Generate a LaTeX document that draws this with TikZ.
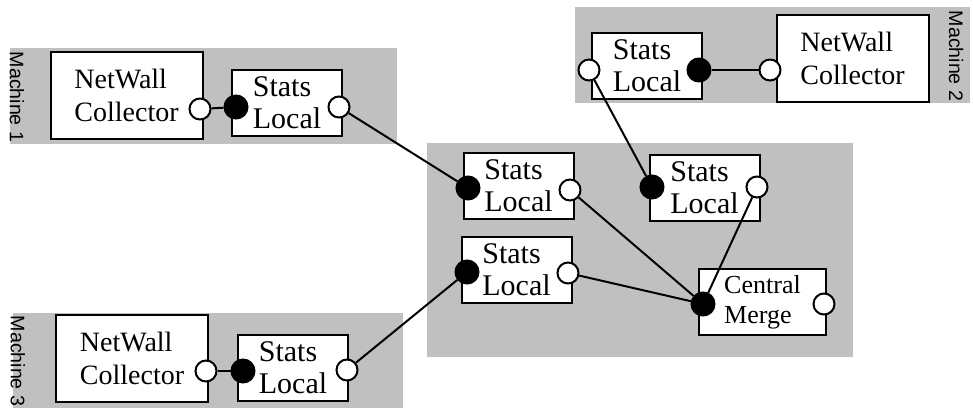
\documentclass[tikz,border=0pt]{standalone}
\usepackage{fontspec}
\setmainfont{Liberation Serif}
\newfontfamily\labelfont{Liberation Sans}
\definecolor{machinegray}{HTML}{C0C0C0}
\begin{document}
\begin{tikzpicture}[x=0.5pt,y=-0.5pt,
  machine/.style={fill=machinegray,draw=none},
  box/.style={draw,line width=1pt,fill=white,inner sep=0pt,align=left},
  nwbox/.style={box,minimum width=76pt,minimum height=43.5pt,font=\fontsize{14}{16.5}\selectfont},
  stbox/.style={box,minimum width=55pt,minimum height=33pt,font=\fontsize{15}{16}\selectfont},
  cmbox/.style={box,minimum width=63.5pt,minimum height=33pt,font=\fontsize{13}{15}\selectfont},
  opencirc/.style={circle,draw,fill=white,line width=1pt,minimum size=10.5pt,inner sep=0pt},
  fullcirc/.style={circle,draw,fill=black,line width=1pt,minimum size=11.5pt,inner sep=0pt},
  wire/.style={line width=1pt},
  mlabel/.style={rotate=-90,font=\labelfont\fontsize{9.8}{11}\selectfont,inner sep=0pt}]
\useasboundingbox (0,0) rectangle (973,408);
% gray machine areas
\fill[machine] (10,48) rectangle (397,144);
\fill[machine] (575,7) rectangle (970,103);
\fill[machine] (427,143) rectangle (853,357);
\fill[machine] (13,313) rectangle (403,408);
% machine labels
\node[mlabel] (m1) at (17,97) {Machine 1};
\node[mlabel] (m2) at (956,56) {Machine 2};
\node[mlabel] (m3) at (18,361) {Machine 3};
% machine 1
\node[nwbox] (nw1) at (126.5,95.5) {NetWall\\Collector};
\node[stbox] (s1) at (287,103) {Stats\\Local};
% machine 2
\node[stbox] (s2) at (647,66) {Stats\\Local};
\node[nwbox] (nw2) at (852.5,58.5) {NetWall\\Collector};
% central
\node[stbox] (sa) at (518.5,186) {Stats\\Local};
\node[stbox] (sb) at (704.5,188) {Stats\\Local};
\node[stbox] (sc) at (516.5,270) {Stats\\Local};
\node[cmbox] (cm) at (762.5,302) {Central\\Merge};
% machine 3
\node[nwbox] (nw3) at (132,358.5) {NetWall\\Collector};
\node[stbox] (s3) at (293,367.5) {Stats\\Local};
% ports
\node[opencirc] (nw1o) at (200,109) {};
\node[fullcirc] (s1i) at (236,107) {};
\node[opencirc] (s1o) at (339,107) {};
\node[opencirc] (s2o) at (589,70) {};
\node[fullcirc] (s2i) at (699,70) {};
\node[opencirc] (nw2o) at (770,70) {};
\node[fullcirc] (sai) at (468,188) {};
\node[opencirc] (sao) at (570,190) {};
\node[fullcirc] (sbi) at (652,187) {};
\node[opencirc] (sbo) at (757,187) {};
\node[fullcirc] (sci) at (467,272) {};
\node[opencirc] (sco) at (568,273) {};
\node[fullcirc] (cmi) at (703,304) {};
\node[opencirc] (cmo) at (824,304) {};
\node[opencirc] (nw3o) at (206,371) {};
\node[fullcirc] (s3i) at (243,371) {};
\node[opencirc] (s3o) at (347,370) {};
% connectors
\draw[wire] (nw1o) -- (s1i);
\draw[wire] (s2i) -- (nw2o);
\draw[wire] (nw3o) -- (s3i);
\draw[wire] (s1o) -- (sai);
\draw[wire] (s2o) -- (sbi);
\draw[wire] (s3o) -- (sci);
\draw[wire] (sao) -- (cmi);
\draw[wire] (sco) -- (cmi);
\draw[wire] (sbo) -- (cmi);
\end{tikzpicture}
\end{document}
